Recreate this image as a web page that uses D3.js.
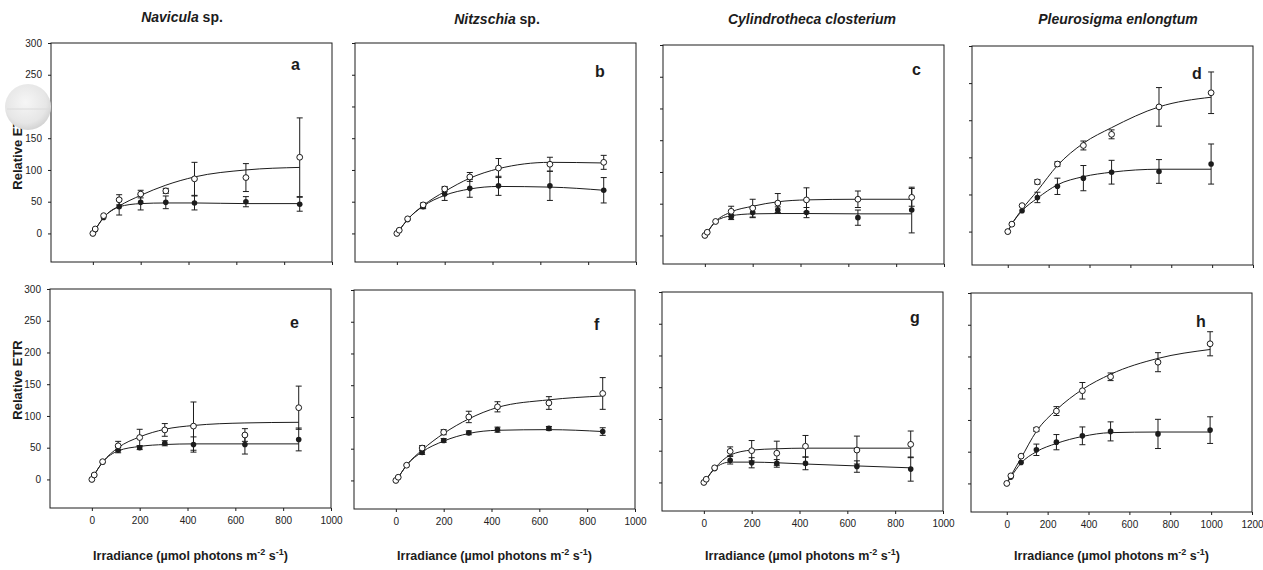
<!DOCTYPE html>
<html>
<head>
<meta charset="utf-8">
<script src="https://cdn.jsdelivr.net/npm/d3@7"></script>
<style>
  body { margin: 0; background: #fff; }
  svg { display: block; font-family: "Liberation Sans", Arial, sans-serif; }
</style>
</head>
<body>
<script>
// panel letters and species titles
var letters = ["a", "b", "c", "d", "e", "f", "g", "h"];
var genus = ["Navicula", "Nitzschia", "Cylindrotheca closterium", "Pleurosigma enlongtum"];
var suffix = [" sp.", " sp.", "", ""];

// irradiance levels (umol photons m-2 s-1)
var irrLow = [0, 10, 45, 110, 200, 305, 425, 640, 865];
var irrHigh = [0, 20, 70, 145, 243, 370, 508, 740, 995];

// axis tops
var xMax = [1000, 1000, 1000, 1200];
var yMax = [300, 300, 300, 250, 300, 300, 300, 300];

// open circles: mean and error, per panel a..h
var openMean = [
  [0, 7, 28, 53, 62, 67, 86, 88, 120],
  [0, 5, 23, 45, 70, 89, 103, 109, 112],
  [0, 5, 22, 38, 43, 51, 56, 57, 60],
  [0, 10, 35, 67, 91, 116, 131, 168, 187],
  [0, 7, 28, 53, 66, 78, 84, 70, 113],
  [0, 5, 24, 51, 76, 100, 116, 122, 137],
  [0, 5, 23, 49, 50, 46, 57, 51, 60],
  [0, 12, 43, 85, 114, 146, 168, 191, 220]
];
var openErr = [
  [0, 0, 2, 8, 6, 4, 26, 22, 62],
  [0, 0, 2, 3, 4, 7, 15, 11, 11],
  [0, 0, 2, 8, 14, 15, 19, 13, 14],
  [0, 0, 2, 3, 3, 6, 6, 26, 28],
  [0, 0, 2, 7, 13, 10, 38, 10, 34],
  [0, 0, 2, 4, 4, 9, 8, 10, 25],
  [0, 0, 2, 7, 16, 19, 17, 22, 21],
  [0, 0, 2, 3, 7, 13, 6, 15, 19]
];

// filled circles: mean and error
var filledMean = [
  [0, 6, 25, 42, 49, 49, 48, 50, 46],
  [0, 5, 22, 42, 62, 71, 75, 75, 68],
  [0, 5, 22, 29, 36, 40, 36, 28, 40],
  [0, 10, 28, 46, 61, 72, 80, 81, 91],
  [0, 7, 27, 46, 50, 57, 55, 55, 63],
  [0, 5, 24, 44, 63, 75, 80, 82, 77],
  [0, 5, 22, 35, 31, 30, 30, 25, 21],
  [0, 10, 33, 53, 65, 75, 82, 78, 84]
];
var filledErr = [
  [0, 0, 2, 13, 12, 10, 11, 8, 11],
  [0, 0, 2, 3, 10, 14, 15, 23, 20],
  [0, 0, 2, 4, 8, 5, 8, 12, 36],
  [0, 0, 2, 7, 11, 17, 16, 16, 27],
  [0, 0, 2, 4, 3, 4, 12, 15, 18],
  [0, 0, 2, 3, 3, 3, 4, 3, 6],
  [0, 0, 2, 6, 8, 6, 10, 9, 19],
  [0, 0, 2, 9, 12, 14, 15, 23, 21]
];

// fitted curves at each irradiance level
var openFit = [
  [0, 6, 25, 43, 60, 76, 89, 100, 104],
  [0, 5, 22, 44, 66, 87, 102, 112, 111],
  [0, 5, 22, 37, 46, 53, 56, 57, 57],
  [0, 10, 30, 55, 89, 119, 140, 168, 181],
  [0, 7, 27, 50, 67, 79, 85, 89, 90],
  [0, 5, 24, 48, 74, 97, 115, 127, 133],
  [0, 5, 22, 43, 51, 53, 54, 54, 54],
  [0, 12, 40, 82, 116, 148, 172, 197, 211]
];
var filledFit = [
  [0, 6, 25, 42, 47, 48, 48, 47, 47],
  [0, 5, 22, 43, 60, 70, 74, 73, 68],
  [0, 5, 22, 31, 34, 34.5, 34.5, 34, 34],
  [0, 10, 28, 45, 63, 74, 80, 84, 84],
  [0, 7, 27, 45, 52, 55, 56, 56, 56],
  [0, 5, 24, 45, 62, 74, 79, 80, 77],
  [0, 5, 22, 32, 32, 31, 29, 26, 23],
  [0, 10, 32, 50, 63, 74, 80, 81, 81]
];

// layout (scan is a bit uneven, so each frame has its own corner)
var frameLeft = [51, 355, 663, 972, 50, 354, 662, 971];
var frameTop = [43, 43, 45, 46, 289, 290, 292, 293];
var fw = 281, fh = 219;
var letterPos = [[240, 27], [240, 34], [249, 30], [220, 33], [240, 39], [240, 40], [248, 31], [225, 34]];
var titleX = [182, 497, 812, 1118];

var ink = "#1c1c1c";
var width = 1263, height = 570;

var svg = d3.select("body").append("svg")
    .attr("width", width)
    .attr("height", height);

// column titles
genus.forEach(function(g, c) {
  var t = svg.append("text")
      .attr("x", titleX[c])
      .attr("y", c === 0 ? 22 : 24)
      .attr("text-anchor", "middle")
      .attr("font-size", 14)
      .attr("font-weight", "bold")
      .attr("fill", ink);
  t.append("tspan").attr("font-style", "italic").text(g);
  if (suffix[c]) t.append("tspan").text(suffix[c]);
});

letters.forEach(function(letter, i) {
  var col = i % 4, row = Math.floor(i / 4);
  var irr = col === 3 ? irrHigh : irrLow;

  var x = d3.scaleLinear().domain([-175, xMax[col]]).range([0, fw]);
  var y = d3.scaleLinear().domain([-45, yMax[i]]).range([fh, 0]);

  var g = svg.append("g")
      .attr("transform", "translate(" + frameLeft[i] + "," + frameTop[i] + ")");

  var xAxis = d3.axisBottom(x)
      .tickValues(d3.range(0, xMax[col] + 1, 200))
      .tickSize(3).tickPadding(6)
      .tickFormat(row === 1 ? d3.format("d") : function() { return ""; });
  var yAxis = d3.axisLeft(y)
      .tickValues(d3.range(0, yMax[i] + 1, 50))
      .tickSize(3).tickPadding(6)
      .tickFormat(col === 0 ? d3.format("d") : function() { return ""; });

  var gx = g.append("g").attr("transform", "translate(0," + fh + ")").call(xAxis);
  var gy = g.append("g").call(yAxis);
  [gx, gy].forEach(function(a) {
    a.select(".domain").remove();
    a.selectAll("line").attr("stroke", ink);
    a.selectAll("text").attr("font-size", 10).attr("fill", "#222")
      .attr("font-family", "'Liberation Sans', Arial, sans-serif");
  });

  g.append("rect")
      .attr("width", fw).attr("height", fh)
      .attr("fill", "none").attr("stroke", ink).attr("stroke-width", 1);

  // fitted curves
  var line = d3.line()
      .x(function(d, k) { return x(irr[k]); })
      .y(function(d) { return y(d); })
      .curve(d3.curveMonotoneX);
  [openFit[i], filledFit[i]].forEach(function(fit) {
    g.append("path").attr("d", line(fit))
      .attr("fill", "none").attr("stroke", ink).attr("stroke-width", 1);
  });

  // error bars
  function errorBars(means, errs) {
    var pts = means.map(function(m, k) { return { x: irr[k], m: m, e: errs[k] }; })
        .filter(function(p) { return p.e > 2; });
    var eb = g.append("g").attr("stroke", ink).attr("stroke-width", 1);
    eb.selectAll(".v").data(pts).enter().append("line")
      .attr("x1", function(p) { return x(p.x); }).attr("x2", function(p) { return x(p.x); })
      .attr("y1", function(p) { return y(p.m - p.e); }).attr("y2", function(p) { return y(p.m + p.e); });
    [-1, 1].forEach(function(s) {
      eb.selectAll(".c" + s).data(pts).enter().append("line")
        .attr("x1", function(p) { return x(p.x) - 3; }).attr("x2", function(p) { return x(p.x) + 3; })
        .attr("y1", function(p) { return y(p.m + s * p.e); }).attr("y2", function(p) { return y(p.m + s * p.e); });
    });
  }
  errorBars(filledMean[i], filledErr[i]);
  errorBars(openMean[i], openErr[i]);

  g.append("g").selectAll("circle").data(filledMean[i]).enter().append("circle")
      .attr("cx", function(d, k) { return x(irr[k]); })
      .attr("cy", function(d) { return y(d); })
      .attr("r", 2.8).attr("fill", ink);
  g.append("g").selectAll("circle").data(openMean[i]).enter().append("circle")
      .attr("cx", function(d, k) { return x(irr[k]); })
      .attr("cy", function(d) { return y(d); })
      .attr("r", 2.9).attr("fill", "#fff").attr("stroke", ink).attr("stroke-width", 1);

  g.append("text")
      .attr("x", letterPos[i][0]).attr("y", letterPos[i][1])
      .attr("font-size", 16).attr("font-weight", "bold").attr("fill", ink)
      .text(letter);

  if (row === 1) {
    var xl = svg.append("text")
        .attr("x", frameLeft[i] + fw / 2).attr("y", 560)
        .attr("text-anchor", "middle")
        .attr("font-size", 12.5).attr("font-weight", "bold").attr("fill", ink);
    xl.append("tspan").text("Irradiance (\u00b5mol photons m");
    xl.append("tspan").attr("font-size", 9).attr("dy", -5).text("-2");
    xl.append("tspan").attr("dy", 5).text(" s");
    xl.append("tspan").attr("font-size", 9).attr("dy", -5).text("-1");
    xl.append("tspan").attr("dy", 5).text(")");
  }
});

// y labels
[150, 380].forEach(function(cy) {
  svg.append("text")
      .attr("transform", "translate(17," + cy + ") rotate(-90)")
      .attr("text-anchor", "middle").attr("dy", "0.35em")
      .attr("font-size", 13).attr("font-weight", "bold").attr("fill", ink)
      .text("Relative ETR");
});

// grey scan blot over the first label
var grad = svg.append("defs").append("radialGradient").attr("id", "blot")
    .attr("cx", "45%").attr("cy", "40%").attr("r", "60%");
grad.append("stop").attr("offset", "0%").attr("stop-color", "#f6f6f6");
grad.append("stop").attr("offset", "75%").attr("stop-color", "#e6e6e6");
grad.append("stop").attr("offset", "100%").attr("stop-color", "#d4d4d4");
svg.append("circle").attr("cx", 28).attr("cy", 107).attr("r", 23)
    .attr("fill", "url(#blot)");
svg.append("line").attr("x1", 7).attr("x2", 50).attr("y1", 109).attr("y2", 109)
    .attr("stroke", "#dadada").attr("stroke-width", 1);
</script>
</body>
</html>
